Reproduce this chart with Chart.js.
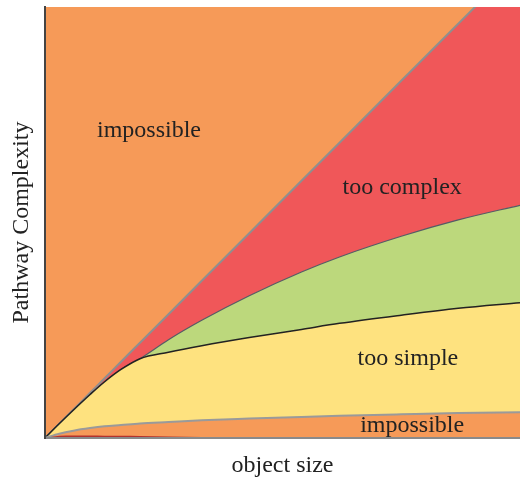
<!DOCTYPE html>
<html>
<head>
<meta charset="utf-8">
<script src="https://cdn.jsdelivr.net/npm/chart.js@4"></script>
<style>
  body { margin: 0; background: #fff; }
  #wrap { width: 520px; height: 480px; }
</style>
</head>
<body>
<div id="wrap"><canvas id="myChart"></canvas></div>
<script>
// object size (x) positions shared by every boundary
const sizes = [0, 3, 6, 9.5, 12.5, 16, 20, 26, 33, 43, 54, 62, 75, 87, 100];

// boundaries between regions, bottom to top
const bottomSliver = [0, 0.5, 0.6, 0.6, 0.55, 0.5, 0.45, 0.35, 0.25, 0.15, 0.05, 0, 0, 0, 0];
const simpleLow    = [0, 1.0, 1.7, 2.3, 2.7, 3.0, 3.35, 3.7, 4.1, 4.5, 4.9, 5.15, 5.5, 5.8, 6.0];
const simpleHigh   = [0, 3.3, 6.5, 10.1, 13.0, 15.9, 18.4, 19.9, 21.4, 23.3, 25.2, 26.6, 28.5, 30.1, 31.4];
const complexLow   = [0, 3.3, 6.5, 10.1, 13.0, 15.9, 18.4, 22.8, 27.3, 33.0, 38.5, 42.0, 46.8, 50.6, 54.0];
const complexHigh  = [0, 3.3, 6.6, 10.5, 13.8, 17.7, 22.1, 28.7, 36.5, 47.5, 59.7, 68.5, 82.9, 96.1, 110.5];

// region labels: [text, x, y]
const regionLabels = [
  ['impossible', 21.9, 71.2],
  ['too complex', 75.2, 58.1],
  ['too simple', 76.4, 18.4],
  ['impossible', 77.3, 2.8],
];

const ORANGE = 'rgb(246,154,88)';
const RED = 'rgb(240,87,89)';
const GREEN = 'rgb(188,216,124)';
const YELLOW = 'rgb(254,226,127)';

function pts(ys) {
  return sizes.map((x, i) => ({ x: x, y: ys[i] }));
}

function line(ys, border, width, fill, bg) {
  return {
    data: pts(ys),
    borderColor: border,
    borderWidth: width,
    backgroundColor: bg || 'transparent',
    fill: fill,
    pointRadius: 0,
    cubicInterpolationMode: 'monotone',
  };
}

const data = {
  datasets: [
    line(bottomSliver, 'rgba(0,0,0,0)', 0, 'origin', 'rgb(178,50,45)'),
    line(simpleLow, '#9a9a9a', 2, false),
    line(simpleHigh, '#222', 1.5, '-1', YELLOW),
    line(complexLow, '#555b66', 1.2, '-1', GREEN),
    line(complexHigh, '#8f8f8f', 2, '-1', RED),
  ]
};

const serif = '"Liberation Serif", "DejaVu Serif", serif';

const regionPlugin = {
  id: 'regions',
  beforeDraw(chart) {
    const { ctx, chartArea: a } = chart;
    ctx.save();
    ctx.fillStyle = ORANGE;
    ctx.fillRect(a.left, a.top, a.right - a.left, a.bottom - a.top);
    ctx.restore();
  },
  afterDatasetsDraw(chart) {
    const { ctx, scales, chartArea: a } = chart;
    ctx.save();
    ctx.fillStyle = '#222';
    ctx.font = '24px ' + serif;
    ctx.textAlign = 'center';
    ctx.textBaseline = 'middle';
    regionLabels.forEach(([t, x, y]) => {
      ctx.fillText(t, scales.x.getPixelForValue(x), scales.y.getPixelForValue(y));
    });
    // axis titles
    ctx.fillText('object size', (a.left + a.right) / 2, 466);
    ctx.translate(22, (a.top + a.bottom) / 2);
    ctx.rotate(-Math.PI / 2);
    ctx.fillText('Pathway Complexity', 0, 0);
    ctx.restore();
  }
};

const config = {
  type: 'line',
  data: data,
  options: {
    responsive: true,
    maintainAspectRatio: false,
    animation: false,
    layout: { padding: { left: 45, top: 7, right: 0, bottom: 42 } },
    plugins: { legend: { display: false }, tooltip: { enabled: false } },
    scales: {
      x: {
        type: 'linear', min: 0, max: 100,
        ticks: { display: false },
        grid: { display: false, drawTicks: false },
        border: { display: true, color: '#8a8a8a', width: 2, z: 1 },
      },
      y: {
        min: 0, max: 100,
        ticks: { display: false },
        grid: { display: false, drawTicks: false },
        border: { display: true, color: '#444', width: 2, z: 1 },
      }
    }
  },
  plugins: [regionPlugin]
};

const myChart = new Chart(document.getElementById('myChart'), config);
</script>
</body>
</html>
